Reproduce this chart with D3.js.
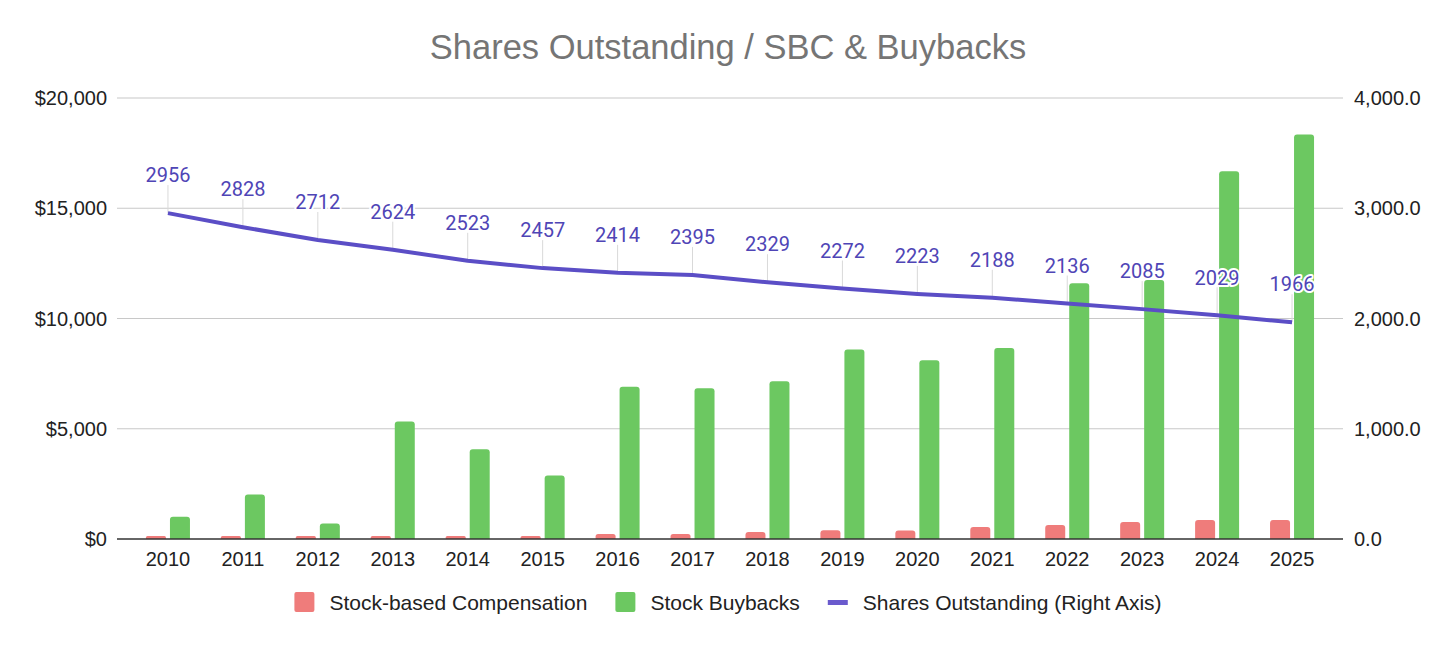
<!DOCTYPE html>
<html>
<head>
<meta charset="utf-8">
<script src="https://cdn.jsdelivr.net/npm/d3@7"></script>
<style>
  body { margin: 0; background: #fff; }
  svg { display: block; }
</style>
</head>
<body>
<svg></svg>
<script>
const width = 1456;
const height = 645;

// data
const years = ["2010","2011","2012","2013","2014","2015","2016","2017","2018","2019","2020","2021","2022","2023","2024","2025"];
const sbc = [140, 140, 140, 140, 140, 140, 230, 230, 320, 400, 390, 540, 630, 770, 860, 860];
const buybacks = [1010, 2020, 700, 5330, 4070, 2880, 6910, 6840, 7150, 8590, 8110, 8660, 11600, 11750, 16680, 18340];
const shares = [2956, 2828, 2712, 2624, 2523, 2457, 2414, 2395, 2329, 2272, 2223, 2188, 2136, 2085, 2029, 1966];
const leftTicks = [0, 5000, 10000, 15000, 20000];
const rightTicks = [0, 1000, 2000, 3000, 4000];
const seriesNames = ["Stock-based Compensation", "Stock Buybacks", "Shares Outstanding (Right Axis)"];

const red = "#ef7c7b", green = "#6cc861", purple = "#5b4ec6", labelPurple = "#4f45b6";
const sans = "'Liberation Sans', Arial, sans-serif";

let svg = d3.select("svg")
    .attr("width", width)
    .attr("height", height);

const plotLeft = 117, plotRight = 1343, plotTop = 98, plotBottom = 539;

let x = d3.scalePoint()
    .domain(years)
    .range([plotLeft, plotRight])
    .padding(0.68);

let yL = d3.scaleLinear().domain([0, 20000]).range([plotBottom, plotTop]);
let yR = d3.scaleLinear().domain([0, 4000]).range([plotBottom, plotTop]);

// title
svg.append("text")
    .attr("x", width / 2)
    .attr("y", 59)
    .attr("text-anchor", "middle")
    .style("font-family", sans)
    .style("font-size", "34.5px")
    .style("fill", "#757575")
    .text("Shares Outstanding / SBC & Buybacks");

// gridlines
svg.append("g")
    .selectAll("line")
    .data(leftTicks.filter(d => d > 0))
    .join("line")
    .attr("x1", plotLeft)
    .attr("x2", plotRight)
    .attr("y1", d => yL(d))
    .attr("y2", d => yL(d))
    .style("stroke", "#c8c8c8")
    .style("stroke-width", 1.2);

// left axis labels
svg.append("g")
    .selectAll("text")
    .data(leftTicks)
    .join("text")
    .attr("x", 107)
    .attr("y", d => yL(d))
    .attr("dy", "0.36em")
    .attr("text-anchor", "end")
    .style("font-family", sans)
    .style("font-size", "20px")
    .style("fill", "#222")
    .text(d => "$" + d3.format(",")(d));

// right axis labels
svg.append("g")
    .selectAll("text")
    .data(rightTicks)
    .join("text")
    .attr("x", 1354)
    .attr("y", d => yR(d))
    .attr("dy", "0.36em")
    .style("font-family", sans)
    .style("font-size", "20px")
    .style("fill", "#222")
    .text(d => d3.format(",.1f")(d));

// bar with rounded top corners
function barPath(x0, w, y0, y1) {
    let r = Math.min(3, (y1 - y0) / 2);
    return `M${x0},${y1}V${y0 + r}Q${x0},${y0} ${x0 + r},${y0}H${x0 + w - r}Q${x0 + w},${y0} ${x0 + w},${y0 + r}V${y1}Z`;
}

const barW = 20, gap = 2;

svg.append("g")
    .selectAll("path")
    .data(years)
    .join("path")
    .attr("d", (d, i) => barPath(x(d) - gap - barW, barW, yL(sbc[i]), plotBottom))
    .style("fill", red);

svg.append("g")
    .selectAll("path")
    .data(years)
    .join("path")
    .attr("d", (d, i) => barPath(x(d) + gap, barW, yL(buybacks[i]), plotBottom))
    .style("fill", green);

// leader lines for the data labels
const labelOffset = 38;
svg.append("g")
    .selectAll("line")
    .data(years)
    .join("line")
    .attr("x1", d => x(d))
    .attr("x2", d => x(d))
    .attr("y1", (d, i) => yR(shares[i]))
    .attr("y2", (d, i) => yR(shares[i]) - labelOffset + 10)
    .style("stroke", "#d9d9d9")
    .style("stroke-width", 1);

// shares outstanding line
let line = d3.line()
    .x((d, i) => x(years[i]))
    .y(d => yR(d));

svg.append("path")
    .attr("d", line(shares))
    .style("fill", "none")
    .style("stroke", purple)
    .style("stroke-width", 4)
    .style("stroke-linejoin", "round");

// data labels
svg.append("g")
    .selectAll("text")
    .data(years)
    .join("text")
    .attr("x", d => x(d))
    .attr("y", (d, i) => yR(shares[i]) - labelOffset)
    .attr("dy", "0.36em")
    .attr("text-anchor", "middle")
    .style("font-family", "Roboto, sans-serif")
    .style("font-size", "20px")
    .style("fill", labelPurple)
    .style("stroke", "#fff")
    .style("stroke-width", 4)
    .style("stroke-linejoin", "round")
    .style("paint-order", "stroke")
    .text((d, i) => shares[i]);

// baseline
svg.append("line")
    .attr("x1", plotLeft)
    .attr("x2", plotRight)
    .attr("y1", plotBottom)
    .attr("y2", plotBottom)
    .style("stroke", "#333")
    .style("stroke-width", 1.5);

// x labels
svg.append("g")
    .selectAll("text")
    .data(years)
    .join("text")
    .attr("x", d => x(d))
    .attr("y", 566)
    .attr("text-anchor", "middle")
    .style("font-family", sans)
    .style("font-size", "20px")
    .style("fill", "#222")
    .text(d => d);

// legend
let legend = svg.append("g");
let items = [];
seriesNames.forEach((name, i) => {
    let g = legend.append("g");
    if (i < 2) {
        g.append("rect")
            .attr("x", 0).attr("y", -10)
            .attr("width", 20).attr("height", 20)
            .attr("rx", 2)
            .style("fill", i == 0 ? red : green);
    } else {
        g.append("rect")
            .attr("x", 0).attr("y", -2)
            .attr("width", 20).attr("height", 5)
            .style("fill", "#6a5acd");
    }
    let t = g.append("text")
        .attr("x", 35)
        .attr("dy", "0.36em")
        .style("font-family", sans)
        .style("font-size", "21px")
        .style("fill", "#222")
        .text(name);
    items.push({g: g, w: 35 + t.node().getComputedTextLength()});
});
let total = d3.sum(items, d => d.w) + 28 * (items.length - 1);
let cx = width / 2 - total / 2;
items.forEach(it => {
    it.g.attr("transform", `translate(${cx},602)`);
    cx += it.w + 28;
});
</script>
</body>
</html>
